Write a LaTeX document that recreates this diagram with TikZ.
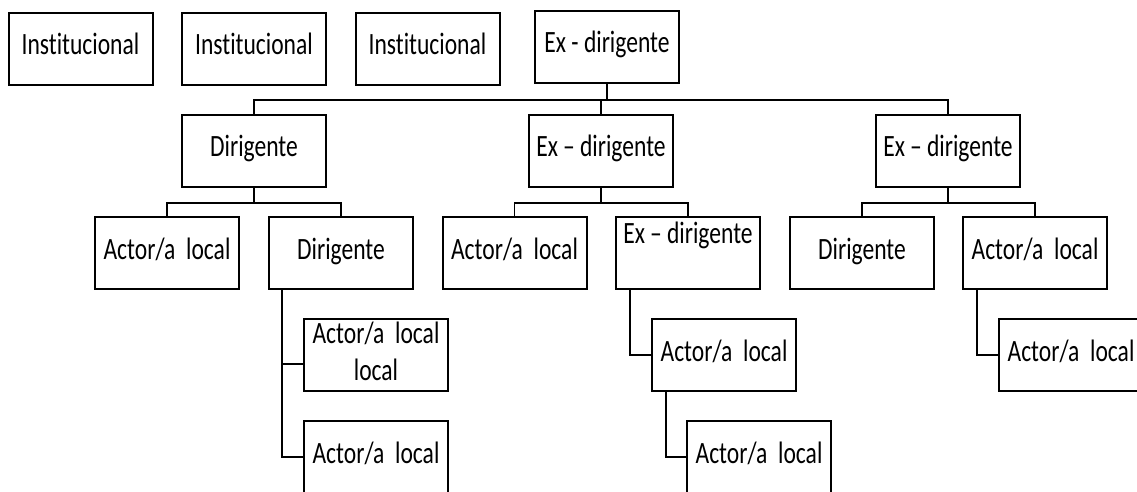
\documentclass[tikz,border=0pt]{standalone}
\usepackage{fontspec}
\setmainfont{Carlito}[FakeStretch=0.76, Ligatures=NoCommon]
\begin{document}
\begin{tikzpicture}[x=1pt,y=-1pt,
  box/.style={draw, line width=2pt, minimum width=144pt, minimum height=72pt,
    inner sep=0pt, text height=24pt, text depth=12pt,
    font=\fontsize{31}{37}\selectfont},
  hightext/.style={text height=8pt, text depth=28pt},
  link/.style={line width=1.7pt},
  trunk/.style={line width=2.8pt}]
\useasboundingbox (0,0) rectangle (1137,492);
\clip (0,0) rectangle (1137,492);

% top row
\node[box] (i1) at (80.5,49) {Institucional};
\node[box] (i2) at (254,49)  {Institucional};
\node[box] (i3) at (427.5,49) {Institucional};
\node[box] (x0) at (607,47)  {Ex - dirigente};

% second level
\node[box] (d1) at (254,151) {Dirigente};
\node[box] (e1) at (601,151) {Ex\,–\,dirigente};
\node[box] (e2) at (948,151) {Ex\,–\,dirigente};

% third level
\node[box] (a1) at (167,253)   {Actor/a~~local};
\node[box] (d2) at (341,253)   {Dirigente};
\node[box] (a2) at (514.5,253) {Actor/a~~local};
\node[box,hightext] (e3) at (688,253) {Ex\,–\,dirigente};
\node[box] (d3) at (862,253)   {Dirigente};
\node[box] (a3) at (1035,253)  {Actor/a~~local};

% fourth and fifth levels
\node[box, text height=6pt, text depth=30pt] (a4) at (376,355)
  {\parbox[t]{140pt}{\centering\baselineskip=37pt Actor/a~~local\\local}};
\node[box] (a5) at (724,355)  {Actor/a~~local};
\node[box] (a6) at (1071,355) {Actor/a~~local};
\node[box] (a7) at (376,457)  {Actor/a~~local};
\node[box] (a8) at (759,457)  {Actor/a~~local};

% main bus
\coordinate (bus) at (0,100);
\draw[trunk] (x0.south) -- (x0.south |- bus);
\draw[link] (d1.north) |- (bus -| e2.north) -- (e2.north);
\draw[link] (e1.north) -- (e1.north |- bus);

% sub-buses
\coordinate (sub) at (0,203);
\draw[link] (d1.south) -- (d1.south |- sub);
\draw[link] (a1.north) |- (sub -| d2.north) -- (d2.north);
\draw[link] (e1.south) -- (e1.south |- sub);
\draw[link] (a2.north) |- (sub -| e3.north) -- (e3.north);
\draw[link] (e2.south) -- (e2.south |- sub);
\draw[link] (d3.north) |- (sub -| a3.north) -- (a3.north);

% elbow connectors
\draw[link] ([xshift=14pt]d2.south west) |- ([yshift=-9pt]a4.west);
\draw[link] ([xshift=14pt]d2.south west) |- (a7.west);
\draw[link] ([xshift=15pt]e3.south west) |- (a5.west);
\draw[link] ([xshift=15pt]a5.south west) |- (a8.west);
\draw[link] ([xshift=15pt]a3.south west) |- (a6.west);
\end{tikzpicture}
\end{document}
